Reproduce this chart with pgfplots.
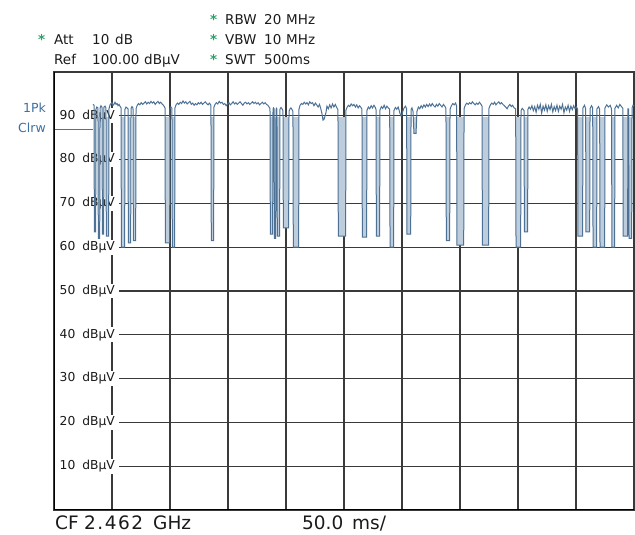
\documentclass[border=0pt]{standalone}
\usepackage{pgfplots}
\usepackage{pgfplotstable}
\pgfplotsset{compat=1.18}
\usepackage{fontspec}
\setmainfont{DejaVu Sans}
\definecolor{gridc}{HTML}{3A3A3A}
\definecolor{tracec}{HTML}{4D7296}
\definecolor{tracefill}{HTML}{BDCDDC}
\definecolor{astc}{HTML}{2AA06A}
\definecolor{pkc}{HTML}{3D6F9F}
\definecolor{txt}{HTML}{1A1A1A}
\newcommand{\hdr}{\fontsize{13.5}{16}\selectfont}
\newcommand{\btm}{\fontsize{18.5}{21}\selectfont}
\newcommand{\tkl}{\fontsize{12.3}{14}\selectfont}
\pgfplotstableread{
x y
33.6 92.6
34.5 92.4
34.8 63.5
35.9 63.5
36.2 91.5
36.9 92.0
37.9 91.8
38.2 62.0
39.4 62.0
39.7 91.8
40.5 92.3
41.4 91.9
41.7 63.0
42.8 63.0
43.1 92.0
44.0 92.2
44.8 91.8
45.1 62.5
47.1 62.5
47.4 91.6
48.3 92.5
49.2 92.8
50.0 93.0
50.9 92.4
51.8 92.7
52.6 93.1
53.5 92.6
54.4 92.8
55.2 92.3
56.1 92.6
56.9 92.2
57.8 91.8
58.1 60.0
60.9 60.0
61.2 91.5
62.1 92.0
62.9 91.8
63.8 91.6
64.1 61.0
66.1 61.0
66.4 91.7
67.2 92.1
68.1 91.8
68.4 61.5
70.4 61.5
70.7 91.6
71.6 92.3
72.8 92.8
74.0 92.5
75.2 93.0
76.4 92.6
77.6 92.9
78.8 93.2
80.0 92.7
81.2 93.1
82.4 92.8
83.6 93.3
84.8 92.9
86.0 93.2
87.2 92.6
88.4 93.0
89.6 93.3
90.8 92.8
92.0 93.1
93.2 92.7
94.4 92.4
95.7 91.8
96.0 61.0
99.7 61.0
100.0 91.6
100.8 92.0
101.7 91.7
102.0 60.0
104.0 60.0
104.3 91.8
105.2 92.5
106.4 92.9
107.6 92.6
108.8 93.1
110.0 92.8
111.2 93.4
112.4 92.9
113.6 93.2
114.8 92.7
116.0 93.0
117.2 93.3
118.4 92.6
119.6 92.9
120.8 92.4
122.0 92.8
123.2 92.5
124.4 93.0
125.6 92.7
126.8 93.1
128.0 92.6
129.2 92.9
130.4 93.2
131.6 92.8
132.8 92.5
134.0 92.9
135.3 92.4
135.6 61.5
137.6 61.5
137.9 92.0
138.8 92.6
140.0 93.0
141.2 92.7
142.4 93.3
143.6 92.9
144.8 93.1
146.0 92.6
147.2 92.8
148.4 92.3
149.6 92.7
150.8 93.0
152.0 92.5
153.2 92.8
154.4 93.2
155.6 92.7
156.8 93.0
158.0 92.6
159.2 92.9
160.4 93.2
161.6 92.8
162.8 92.4
164.0 92.9
165.2 93.1
166.4 92.7
167.6 93.0
168.8 92.6
170.0 92.9
171.2 93.2
172.4 92.8
173.6 93.1
174.8 92.7
176.0 93.0
177.2 92.5
178.4 92.8
179.6 93.1
180.8 92.7
182.0 93.0
183.2 92.6
184.4 92.4
185.4 92.0
186.2 91.7
186.5 63.0
188.5 63.0
188.8 91.5
189.2 91.8
189.7 91.6
190.0 62.0
191.1 62.0
191.4 91.4
191.8 91.7
192.2 91.5
192.5 62.5
194.5 62.5
194.8 91.5
195.7 91.9
196.5 91.6
197.4 91.2
197.7 64.4
202.3 64.4
202.6 91.0
203.5 91.6
204.3 91.8
205.2 91.4
206.0 91.0
206.3 60.0
210.9 60.0
211.2 91.5
212.1 92.4
213.3 92.8
214.5 92.6
215.7 93.1
216.9 92.7
218.1 93.0
219.3 92.5
220.5 93.2
221.7 92.8
222.9 93.0
224.1 92.3
225.3 92.9
226.5 92.5
227.7 92.0
228.9 92.6
230.1 91.5
231.0 90.5
231.9 89.0
233.0 89.3
234.5 90.8
235.3 92.2
236.5 91.6
237.7 92.5
238.9 91.8
240.1 92.7
241.3 92.0
242.5 92.6
243.7 91.9
244.8 91.4
245.1 62.5
251.4 62.5
251.7 91.3
252.6 91.9
253.8 92.4
255.0 92.1
256.2 92.7
257.4 92.3
258.6 92.6
259.8 92.0
261.0 92.5
262.2 91.8
263.4 92.3
264.6 91.9
265.5 91.5
265.8 62.3
269.5 62.3
269.8 91.2
271.0 92.0
272.2 91.6
273.4 92.3
274.6 91.8
275.8 92.4
277.0 91.9
277.6 91.4
277.9 62.5
280.7 62.5
281.0 91.3
282.2 92.1
283.4 91.7
284.6 92.4
285.8 91.6
287.0 92.2
288.2 91.8
289.4 91.5
289.7 60.0
292.8 60.0
293.1 91.2
294.3 91.9
295.5 91.5
296.7 92.0
297.5 91.3
298.3 90.5
299.2 90.0
300.0 90.3
300.9 91.2
301.8 91.8
303.0 92.2
304.0 91.6
304.3 63.0
307.5 63.0
307.8 91.4
308.6 91.8
309.5 91.0
310.3 86.0
312.1 86.0
312.9 91.0
314.1 92.0
315.3 91.6
316.5 92.3
317.7 91.8
318.9 92.5
320.1 92.0
321.3 92.6
322.5 92.1
323.7 92.7
324.9 92.2
326.1 92.8
327.3 92.3
328.5 92.0
329.7 92.6
330.9 92.2
332.1 92.8
333.3 92.4
334.5 92.0
335.7 92.6
336.9 92.2
337.9 91.7
338.2 61.5
341.1 61.5
341.4 91.5
342.6 92.3
343.8 92.8
345.0 92.5
346.2 92.9
347.1 92.2
347.4 60.5
353.2 60.5
353.5 91.6
354.7 92.5
355.9 92.9
357.1 92.6
358.3 93.0
359.5 92.7
360.7 93.2
361.9 92.8
363.1 92.5
364.3 92.9
365.5 92.6
366.7 93.1
367.9 92.7
369.0 92.2
369.3 60.5
374.7 60.5
375.0 91.7
376.2 92.5
377.4 92.9
378.6 92.6
379.8 93.1
381.0 92.5
382.2 92.9
383.4 93.2
384.6 92.7
385.8 93.0
387.0 92.6
388.2 92.3
389.4 92.0
390.6 91.6
391.8 92.2
393.0 92.6
394.2 92.1
395.4 92.4
396.6 91.8
398.0 91.6
398.3 60.0
402.3 60.0
402.6 91.2
403.6 91.7
404.6 91.4
405.2 91.2
405.5 63.5
408.3 63.5
408.6 91.5
409.6 92.0
410.8 91.5
412.0 92.3
413.2 91.2
414.4 92.1
415.6 90.8
416.8 92.4
418.0 91.5
419.2 92.6
420.4 90.6
421.6 92.2
422.8 91.3
424.0 92.5
425.2 91.0
426.4 92.3
427.6 91.4
428.8 92.6
430.0 90.9
431.2 92.1
432.4 91.2
433.6 92.4
434.8 91.0
436.0 92.2
437.2 91.5
438.4 92.6
439.6 90.7
440.8 92.0
442.0 91.3
443.2 92.4
444.4 91.0
445.6 92.2
446.8 91.4
448.0 92.3
449.2 91.6
450.4 92.0
451.4 91.5
451.7 62.5
455.7 62.5
456.0 91.8
457.3 92.4
458.3 91.7
458.6 63.5
461.8 63.5
462.1 91.6
463.4 92.3
464.4 91.8
464.7 60.0
467.8 60.0
468.1 91.6
469.4 92.1
470.4 91.5
470.7 60.0
474.7 60.0
475.0 91.8
476.5 92.5
478.0 92.0
479.5 92.4
480.6 91.6
481.0 60.0
483.3 60.0
483.6 91.7
485.0 92.4
486.4 91.8
487.8 92.6
489.2 92.1
490.4 91.7
490.7 62.5
494.5 62.5
494.8 91.6
495.3 91.6
495.7 62.0
498.0 62.0
498.3 91.8
499.2 92.4
500.0 92.2
}\tracedata
\begin{document}
\begin{tikzpicture}
\begin{axis}[
  at={(54pt,25pt)}, anchor=south west,
  scale only axis, width=580pt, height=438pt,
  xmin=0, xmax=500, ymin=0, ymax=100,
  xtick={50,100,...,450}, xticklabels={},
  ytick={10,20,...,90},
  yticklabels={10\hspace{7pt}dBµV,20\hspace{7pt}dBµV,30\hspace{7pt}dBµV,40\hspace{7pt}dBµV,50\hspace{7pt}dBµV,60\hspace{7pt}dBµV,70\hspace{7pt}dBµV,80\hspace{7pt}dBµV,90\hspace{7pt}dBµV},
  yticklabel style={anchor=west, xshift=1pt, fill=white, inner xsep=4.5pt, inner ysep=1.5pt, font=\tkl, text=txt},
  grid=major, major grid style={draw=gridc, line width=1.1pt},
  major tick length=0pt,
  axis line style={draw=gridc, line width=1.4pt},
]
\begin{scope}
\clip (axis cs:0,0) rectangle (axis cs:500,89.6);
\addplot[fill=tracefill, draw=none, forget plot] table[x=x,y=y] {\tracedata} -- (axis cs:500,100) -- (axis cs:0,100) -- cycle;
\end{scope}
\addplot[color=tracec, line width=1pt, mark=none] table[x=x,y=y] {\tracedata};
\draw[color=tracec, line width=0.9pt] (axis cs:0,86.8) -- (axis cs:33.6,86.8);
\draw[black, line width=2.3pt] (rel axis cs:0,1) -- (rel axis cs:0,0) -- (rel axis cs:1,0);
\end{axis}
% header texts
\begin{scope}[every node/.style={inner sep=0pt, anchor=base west, text=txt, font=\hdr}]
\node[text=astc, font=\hdr\bfseries] at (210pt,510pt) {*};
\node at (225pt,510pt) {RBW};
\node at (264pt,510pt) {20};
\node at (286pt,510pt) {MHz};
\node[text=astc, font=\hdr\bfseries] at (210pt,490pt) {*};
\node at (225pt,490pt) {VBW};
\node at (264pt,490pt) {10};
\node at (286pt,490pt) {MHz};
\node[text=astc, font=\hdr\bfseries] at (210pt,470pt) {*};
\node at (225pt,470pt) {SWT};
\node at (264pt,470pt) {500ms};
\node[text=astc, font=\hdr\bfseries] at (38pt,490pt) {*};
\node at (54pt,490pt) {Att};
\node at (92pt,490pt) {10};
\node at (115pt,490pt) {dB};
\node at (54pt,470pt) {Ref};
\node at (92pt,470pt) {100.00};
\node at (144pt,470pt) {dBµV};
\end{scope}
\node[inner sep=0pt, anchor=base east, text=pkc, font=\fontsize{12.5}{14}\selectfont] at (46pt,422pt) {1Pk};
\node[inner sep=0pt, anchor=base east, text=pkc, font=\fontsize{12.5}{14}\selectfont] at (46pt,402pt) {Clrw};
\begin{scope}[every node/.style={inner sep=0pt, anchor=base west, text=txt, font=\btm}]
\node at (55pt,5pt) {CF};
\node at (84pt,5pt) {\addfontfeature{LetterSpace=8}2.462};
\node at (153pt,5pt) {GHz};
\node at (302pt,5pt) {50.0};
\node at (352pt,5pt) {ms/};
\end{scope}
\path (0,0) rectangle (635pt,535pt);
\end{tikzpicture}
\end{document}
